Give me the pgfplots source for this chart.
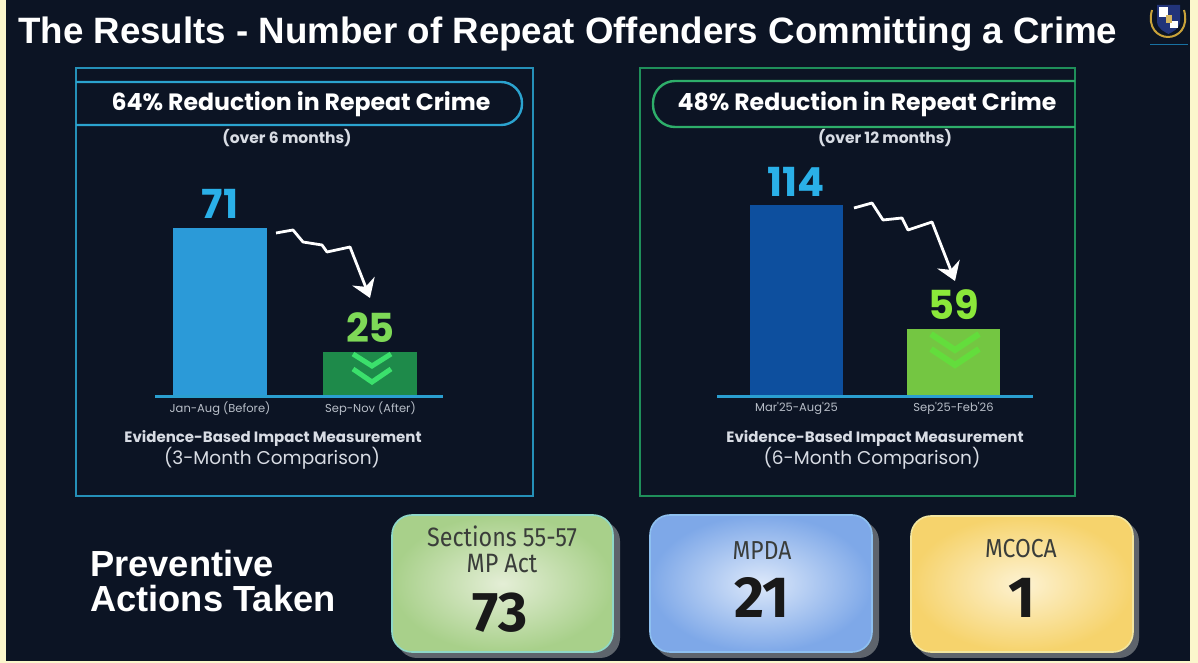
\documentclass[border=0pt]{standalone}
\usepackage{fontspec}
\setmainfont{Liberation Sans}
\newfontfamily\pop{Poppins}
\newfontfamily\boxfnt[FakeStretch=0.88]{Fira Sans}
\newfontfamily\boxnum{Fira Sans}
\usepackage{pgfplots}
\pgfplotsset{compat=1.18}
\usetikzlibrary{arrows.meta}

\definecolor{bg}{HTML}{0C1424}
\definecolor{edge}{HTML}{FBF6CC}
\definecolor{lframe}{HTML}{2590B8}
\definecolor{rframe}{HTML}{1F8F5A}
\definecolor{lpill}{HTML}{2BA3CF}
\definecolor{rpill}{HTML}{2EAE6A}
\definecolor{lblue}{HTML}{2B9AD8}
\definecolor{dgreen}{HTML}{1E8A4A}
\definecolor{dblue}{HTML}{0D4F9E}
\definecolor{lgreen}{HTML}{74C642}
\definecolor{chevl}{HTML}{3BE06C}
\definecolor{chevr}{HTML}{5CE83A}
\definecolor{valcyan}{HTML}{2AB0E8}
\definecolor{val25}{HTML}{7ED957}
\definecolor{val59}{HTML}{8BE83A}
\definecolor{ticklbl}{HTML}{B8BEC8}
\definecolor{baseln}{HTML}{2A9FD0}
\definecolor{subtxt}{HTML}{D8DCE4}
\definecolor{boxtxt}{HTML}{3A3D3A}
\definecolor{shadowc}{HTML}{5E646C}
\definecolor{gold}{HTML}{C9A23A}
\definecolor{navyl}{HTML}{22347A}
\definecolor{gin}{HTML}{E4EED6}
\definecolor{gout}{HTML}{A8D08A}
\definecolor{gbor}{HTML}{8FD8C8}
\definecolor{bin}{HTML}{DCE8FA}
\definecolor{bout}{HTML}{7EA8E8}
\definecolor{bbor}{HTML}{8EC0F0}
\definecolor{yin}{HTML}{FDF2D2}
\definecolor{yout}{HTML}{F6D36C}
\definecolor{ybor}{HTML}{F3E6A0}

\pgfplotstableread{
x y
0 71
}\leftbefore
\pgfplotstableread{
x y
1 25
}\leftafter
\pgfplotstableread{
x y
0 114
}\rightbefore
\pgfplotstableread{
x y
1 59
}\rightafter

\begin{document}
\begin{tikzpicture}[x=1pt,y=1pt]
\fill[bg] (0,0) rectangle (1198,663);
\fill[edge] (0,0) rectangle (6,663);
\fill[edge] (1190,0) rectangle (1198,663);
\fill[edge] (0,0) rectangle (1198,2);

\begin{scope}[shift={(0,663)}, yscale=-1]
% title
\node[anchor=base west, text=white, font=\bfseries\fontsize{36.7}{40}\selectfont, inner sep=0pt] at (18,44) {The Results - Number of Repeat Offenders Committing a Crime};
% logo
\draw[gold, line width=2pt] (1152,10) .. controls (1147,28) and (1158,37) .. (1168,37) .. controls (1178,37) and (1189,28) .. (1184,10);
\fill[navyl] (1157,5) -- (1180,5) -- (1180,21) .. controls (1180,29) and (1172,32) .. (1168.5,34) .. controls (1165,32) and (1157,29) .. (1157,21) -- cycle;
\fill[white] (1159,7) rectangle (1168,17);
\fill[white] (1170,21) rectangle (1178,28);
\fill[gold!80!white] (1166,15) rectangle (1172,23);
\draw[navyl!70!cyan, line width=0.8pt] (1150,44) -- (1188,44);

% panels
\draw[lframe, line width=1.4pt] (76,68) rectangle (533,496);
\draw[rframe, line width=1.4pt] (640,68) rectangle (1075,496);
\draw[lpill, line width=2.4pt, rounded corners=21pt] (76,82) -- (522,82) -- (522,125) -- (76,125);
\draw[rpill, line width=2.4pt, rounded corners=22pt] (1075,81) -- (653,81) -- (653,127) -- (1075,127);

\node[text=white, font=\pop\bfseries\fontsize{23.6}{26}\selectfont] at (301,104) {64\% Reduction in Repeat Crime};
\node[text=white, font=\pop\bfseries\fontsize{23.6}{26}\selectfont] at (867,104) {48\% Reduction in Repeat Crime};
\node[text=subtxt, font=\pop\bfseries\fontsize{15.5}{18}\selectfont] at (287,138) {(over 6 months)};
\node[text=subtxt, font=\pop\bfseries\fontsize{15.5}{18}\selectfont] at (885,138) {(over 12 months)};

\node[text=subtxt, font=\pop\bfseries\fontsize{15}{17}\selectfont] at (273,438) {Evidence-Based Impact Measurement};
\node[text=subtxt, font=\pop\fontsize{18.5}{21}\selectfont] at (272,458) {(3-Month Comparison)};
\node[text=subtxt, font=\pop\bfseries\fontsize{15}{17}\selectfont] at (875,438) {Evidence-Based Impact Measurement};
\node[text=subtxt, font=\pop\fontsize{18.5}{21}\selectfont] at (872,458) {(6-Month Comparison)};

% bottom section
\node[anchor=base west, text=white, font=\bfseries\fontsize{36.3}{38}\selectfont, inner sep=0pt] at (90,577) {Preventive};
\node[anchor=base west, text=white, font=\bfseries\fontsize{36.3}{38}\selectfont, inner sep=0pt] at (90,612) {Actions Taken};

% boxes: shadows
\fill[shadowc, rounded corners=20pt] (397,521) rectangle (620,658);
\fill[shadowc, rounded corners=20pt] (655,521) rectangle (879,658);
\fill[shadowc, rounded corners=20pt] (916,521) rectangle (1139,658);
% boxes
\shade[inner color=gin, outer color=gout, rounded corners=20pt] (392,515) rectangle (613,652);
\draw[gbor, line width=1.6pt, rounded corners=20pt] (392,515) rectangle (613,652);
\shade[inner color=bin, outer color=bout, rounded corners=20pt] (650,515) rectangle (872,652);
\draw[bbor, line width=1.6pt, rounded corners=20pt] (650,515) rectangle (872,652);
\shade[inner color=yin, outer color=yout, rounded corners=20pt] (911,516) rectangle (1133,652);
\draw[ybor, line width=1.6pt, rounded corners=20pt] (911,516) rectangle (1133,652);

\node[anchor=base, text=boxtxt, font=\boxfnt\fontsize{26.5}{28}\selectfont, inner sep=0pt] at (502,547) {Sections 55-57};
\node[anchor=base, text=boxtxt, font=\boxfnt\fontsize{26.5}{28}\selectfont, inner sep=0pt] at (502,573) {MP Act};
\node[anchor=base, text=black!90, font=\boxnum\bfseries\fontsize{56}{58}\selectfont, inner sep=0pt] at (500,632) {73};
\node[anchor=base, text=boxtxt, font=\boxfnt\fontsize{26}{28}\selectfont, inner sep=0pt] at (762,560) {MPDA};
\node[anchor=base, text=black!90, font=\boxnum\bfseries\fontsize{58}{60}\selectfont, inner sep=0pt] at (762,618) {21};
\node[anchor=base, text=boxtxt, font=\boxfnt\fontsize{26}{28}\selectfont, inner sep=0pt] at (1021,558) {MCOCA};
\node[anchor=base, text=black!90, font=\boxnum\bfseries\fontsize{58}{60}\selectfont, inner sep=0pt] at (1022,618) {1};
\end{scope}

% left bar chart
\begin{axis}[
  at={(155pt,266.3pt)}, anchor=south west, scale only axis,
  width=288pt, height=216pt,
  xmin=-0.432, xmax=1.482, ymin=8.22, ymax=88.7,
  axis x line=bottom, axis y line=none,
  axis line style={draw=baseln, line width=2.5pt, -},
  axis on top,
  xtick={0,1}, xticklabels={Jan-Aug (Before), Sep-Nov (After)},
  major tick length=0pt,
  xticklabel style={font=\pop\fontsize{11.5}{13}\selectfont, text=ticklbl, yshift=-2pt},
  ybar, bar width=94pt, bar shift=0pt,
  /pgf/number format/assume math mode=true,
]
\addplot[fill=lblue, draw=none, nodes near coords,
  nodes near coords style={text=valcyan, font=\pop\bfseries\fontsize{40}{44}\selectfont, inner sep=0pt, yshift=9pt}]
  table[x=x,y=y] {\leftbefore};
\addplot[fill=dgreen, draw=none, nodes near coords,
  nodes near coords style={text=val25, font=\pop\bfseries\fontsize{40}{44}\selectfont, inner sep=0pt, yshift=9pt}]
  table[x=x,y=y] {\leftafter};
\end{axis}

% right bar chart
\begin{axis}[
  at={(717pt,266.3pt)}, anchor=south west, scale only axis,
  width=316pt, height=246pt,
  xmin=-0.506, xmax=1.506, ymin=28.98, ymax=138.1,
  axis x line=bottom, axis y line=none,
  axis line style={draw=baseln, line width=2.5pt, -},
  axis on top,
  xtick={0,1}, xticklabels={Mar'25-Aug'25, Sep'25-Feb'26},
  major tick length=0pt,
  xticklabel style={font=\pop\fontsize{11.5}{13}\selectfont, text=ticklbl, yshift=-2pt},
  ybar, bar width=93pt, bar shift=0pt,
  /pgf/number format/assume math mode=true,
]
\addplot[fill=dblue, draw=none, nodes near coords,
  nodes near coords style={text=valcyan, font=\pop\bfseries\fontsize{40}{44}\selectfont, inner sep=0pt, yshift=8pt}]
  table[x=x,y=y] {\rightbefore};
\addplot[fill=lgreen, draw=none, nodes near coords,
  nodes near coords style={text=val59, font=\pop\bfseries\fontsize{40}{44}\selectfont, inner sep=0pt, yshift=9pt}]
  table[x=x,y=y] {\rightafter};
\end{axis}

% decorations over the bars
\begin{scope}[shift={(0,663)}, yscale=-1]
\draw[white, line width=2.8pt, line join=round, -{Stealth[width=24pt,length=18pt,inset=6pt]}]
  (276,233) -- (293,230) -- (303,242) -- (322,245) -- (327,252) -- (350,247) -- (370,298);
\draw[white, line width=2.8pt, line join=round, -{Stealth[width=24pt,length=18pt,inset=6pt]}]
  (854,208) -- (872,203) -- (883,220) -- (902,218) -- (908,230) -- (932,222) -- (955,281);
\draw[chevl, line width=5pt, line join=miter] (353,354) -- (372,366) -- (391,354);
\draw[chevl, line width=5pt, line join=miter] (353,369) -- (372,382) -- (391,369);
\draw[chevr, line width=6pt, line join=miter, opacity=0.7] (931,334) -- (955,350) -- (979,334);
\draw[chevr, line width=6pt, line join=miter, opacity=0.7] (931,349) -- (955,365) -- (979,349);
\end{scope}
\end{tikzpicture}
\end{document}
